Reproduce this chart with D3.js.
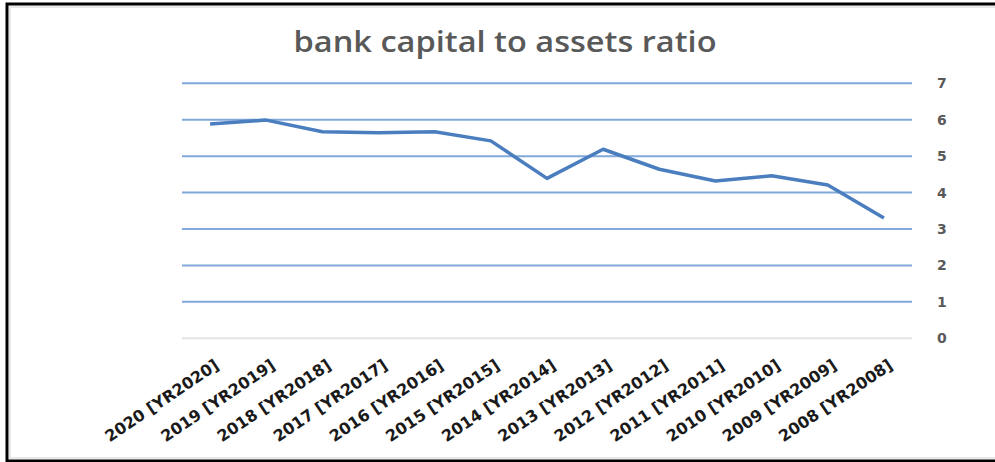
<!DOCTYPE html>
<html>
<head>
<meta charset="utf-8">
<script src="https://cdn.jsdelivr.net/npm/d3@7/dist/d3.min.js"></script>
<style>
  html, body { margin: 0; padding: 0; background: #fff; overflow: hidden; }
  svg { display: block; overflow: hidden; }
</style>
</head>
<body>
<svg id="chart" width="995" height="462"></svg>
<script>
// Bank capital to assets ratio (%), most recent year first
const categories = [
  "2020 [YR2020]", "2019 [YR2019]", "2018 [YR2018]", "2017 [YR2017]",
  "2016 [YR2016]", "2015 [YR2015]", "2014 [YR2014]", "2013 [YR2013]",
  "2012 [YR2012]", "2011 [YR2011]", "2010 [YR2010]", "2009 [YR2009]",
  "2008 [YR2008]"
];
const ratioValues = [5.88, 5.99, 5.67, 5.64, 5.67, 5.42, 4.39, 5.19, 4.64, 4.32, 4.46, 4.21, 3.30];
const yTicks = [0, 1, 2, 3, 4, 5, 6, 7];
const chartTitle = "bank capital to assets ratio";

const svg = d3.select("#chart");

// frame: left, top and bottom edges with a soft inner shadow
const frame = svg.append("g");
frame.append("path")
  .attr("d", "M995,7 H10 V458 H995")
  .attr("fill", "none").attr("stroke", "#e8e8e8").attr("stroke-width", 2);
frame.append("path")
  .attr("d", "M995,4 H7 V461 H995")
  .attr("fill", "none").attr("stroke", "#000").attr("stroke-width", 3);

const x = d3.scaleBand().domain(categories).range([182, 912]);
const y = d3.scaleLinear().domain([0, 7]).range([338.3, 83.3]);
const cx = d => x(d) + x.bandwidth() / 2;

// horizontal gridlines
svg.append("g")
  .selectAll("line")
  .data(yTicks)
  .join("line")
  .attr("x1", 182).attr("x2", 912)
  .attr("y1", d => y(d)).attr("y2", d => y(d))
  .attr("stroke", d => d === 0 ? "#e3e3e3" : "#80a8da")
  .attr("stroke-width", 2);

// right-hand value axis
const yAxis = d3.axisRight(y).tickValues(yTicks).tickFormat(d3.format("d")).tickSize(0).tickPadding(0);
const yg = svg.append("g").attr("transform", "translate(937,0)").call(yAxis);
yg.select(".domain").remove();
yg.selectAll("text")
  .attr("font-family", "DejaVu Sans")
  .attr("font-weight", "bold")
  .attr("font-size", 14)
  .attr("fill", "#595959");

// category axis labels, slanted
const xAxis = d3.axisBottom(x).tickSize(0).tickPadding(0);
const xg = svg.append("g").call(xAxis);
xg.select(".domain").remove();
xg.selectAll(".tick").attr("transform", d => `translate(${cx(d) + 10},368)`);
xg.selectAll("text")
  .attr("y", 0).attr("dy", 0)
  .attr("text-anchor", "end")
  .attr("transform", "rotate(-34)")
  .attr("font-family", "DejaVu Sans")
  .attr("font-weight", "bold")
  .attr("font-size", 16)
  .attr("fill", "#1a1a1a");

// data line
const line = d3.line()
  .x((d, i) => cx(categories[i]))
  .y(d => y(d));
svg.append("path")
  .datum(ratioValues)
  .attr("d", line)
  .attr("fill", "none")
  .attr("stroke", "#4a7ebf")
  .attr("stroke-width", 3.5)
  .attr("stroke-linejoin", "round")
  .attr("stroke-linecap", "butt");

// title
svg.append("text")
  .attr("x", 505).attr("y", 52)
  .attr("text-anchor", "middle")
  .attr("font-family", "Open Sans")
  .attr("font-weight", 600)
  .attr("font-size", 28)
  .attr("textLength", 423)
  .attr("lengthAdjust", "spacingAndGlyphs")
  .attr("fill", "#595959")
  .text(chartTitle);
</script>
</body>
</html>
